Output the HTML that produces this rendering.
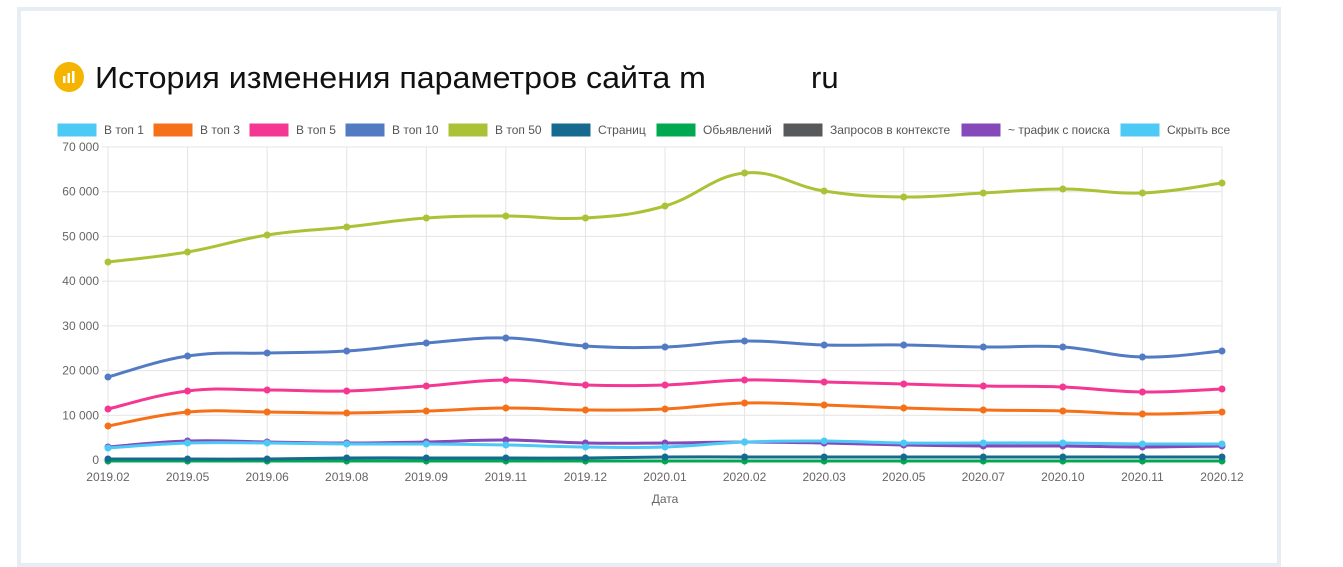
<!DOCTYPE html>
<html><head><meta charset="utf-8"><style>
body{margin:0;width:1343px;height:541px;background:#fff;font-family:"Liberation Sans",sans-serif;overflow:hidden;position:relative}
.card{position:absolute;left:17px;top:7px;width:1264px;height:560px;border:4px solid #e6edf5;box-sizing:border-box}
</style></head><body>
<div class="card"></div>
<svg id="s" width="1343" height="541" style="position:absolute;left:0;top:0" font-family="Liberation Sans, sans-serif">
<circle cx="69" cy="77" r="15" fill="#f5b400"/>
<rect x="63" y="76" width="2.5" height="7" fill="#fff"/><rect x="67.5" y="73" width="2.5" height="10" fill="#fff"/><rect x="72" y="71" width="2.5" height="12" fill="#fff"/>
<text x="95" y="88" font-size="31" fill="#111" textLength="611" lengthAdjust="spacingAndGlyphs">История изменения параметров сайта m</text>
<text x="811" y="88" font-size="31" fill="#111">ru</text>
<g id="g"></g>
</svg>
<script>
var g=document.getElementById('g'),h='';
var x0=108,dx=(1222-108)/14;
var labels=['2019.02','2019.05','2019.06','2019.08','2019.09','2019.11','2019.12','2020.01','2020.02','2020.03','2020.05','2020.07','2020.10','2020.11','2020.12'];
for(var i=0;i<15;i++){var x=x0+i*dx;h+='<line x1="'+x+'" y1="147" x2="'+x+'" y2="466" stroke="#e4e4e4"/>';h+='<text x="'+x+'" y="481" font-size="12" fill="#666" text-anchor="middle">'+labels[i]+'</text>';}
var yl=['0','10 000','20 000','30 000','40 000','50 000','60 000','70 000'];
for(var k=0;k<8;k++){var y=460-k*313/7;h+='<line x1="102" y1="'+y+'" x2="1222" y2="'+y+'" stroke="#e4e4e4"/>';h+='<text x="99" y="'+(y+4)+'" font-size="12" fill="#666" text-anchor="end">'+yl[k]+'</text>';}
h+='<text x="665" y="503" font-size="12" fill="#666" text-anchor="middle">Дата</text>';
var leg=[['В топ 1','#4dc9f6'],['В топ 3','#f67019'],['В топ 5','#f53794'],['В топ 10','#537bc4'],['В топ 50','#acc236'],['Страниц','#166a8f'],['Обьявлений','#00a950'],['Запросов в контексте','#58595b'],['~ трафик с поиска','#8549ba'],['Скрыть все','#4dc9f6']];
var lx=[57,153,249,345,448,551,656,783,961,1120];
leg.forEach(function(l,i){h+='<rect x="'+lx[i]+'" y="123" width="40" height="14" fill="'+l[1]+'" stroke="#fff"/>';h+='<text x="'+(lx[i]+47)+'" y="134" font-size="12" fill="#555">'+l[0]+'</text>';});
var S=[
['#00a950',[461,461,461,461,461,461,461,461,461,461,461,461,461,461,461]],
['#166a8f',[459,459,459,458,458,458,458,457,457,457,457,457,457,457,457]],
['#8549ba',[447,441,442,443,442,440,443,443,442,443,445,446,446,447,446]],
['#4dc9f6',[448,443,443,444,444,445,447,447,442,441,443,443,443,444,444]],
['#f67019',[426,412,412,413,411,408,410,409,403,405,408,410,411,414,412]],
['#f53794',[409,391,390,391,386,380,385,385,380,382,384,386,387,392,389]],
['#537bc4',[377,356,353,351,343,338,346,347,341,345,345,347,347,357,351]],
['#acc236',[262,252,235,227,218,216,218,206,173,191,197,193,189,193,183]]];
S.forEach(function(s){var p=s[1].map(function(y,i){return [x0+i*dx,y]});var d='M'+p[0];
for(var i=0;i<14;i++){var a=p[Math.max(i-1,0)],b=p[i],c=p[i+1],e=p[Math.min(i+2,14)],t=0.2;
d+=' C'+(b[0]+(c[0]-a[0])*t)+','+(b[1]+(c[1]-a[1])*t)+' '+(c[0]-(e[0]-b[0])*t)+','+(c[1]-(e[1]-b[1])*t)+' '+c;}
h+='<path d="'+d+'" fill="none" stroke="'+s[0]+'" stroke-width="3"/>';
p.forEach(function(q){h+='<circle cx="'+q[0]+'" cy="'+q[1]+'" r="3.5" fill="'+s[0]+'"/>';});});
g.innerHTML=h;
</script>
</body></html>
